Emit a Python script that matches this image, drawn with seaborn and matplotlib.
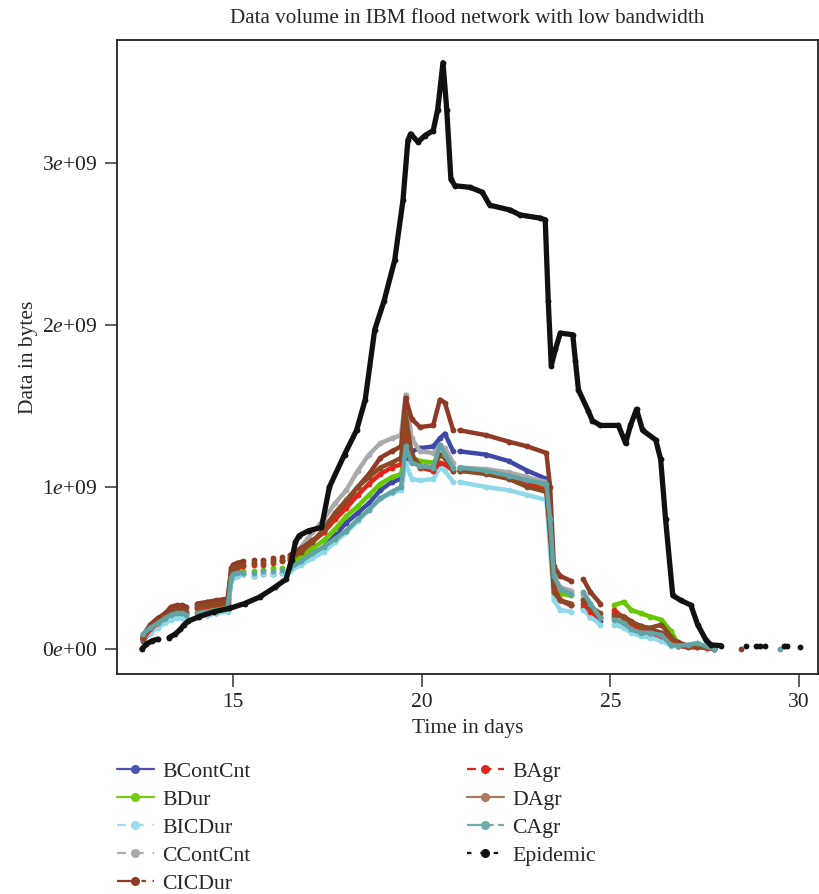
import numpy as np
import pandas as pd
import matplotlib
matplotlib.use("Agg")
import matplotlib.pyplot as plt
from matplotlib.lines import Line2D
import seaborn as sns

nan = np.nan

# shared time axis (days) for the routing protocols, NaN = gap in the trace
days = [12.6, 12.8, 13.0, 13.2, 13.35, 13.5, 13.65, 13.75, nan,
        14.05, 14.3, 14.55, 14.85, 14.95, 15.0, 15.1, 15.25, nan,
        15.55, nan, 15.8, nan, 16.05, nan, 16.3, nan,
        16.5, 16.8, 17.1, 17.4, 17.7, 18.0, 18.3, 18.6, 18.9, 19.2, 19.45,
        19.57, 19.73, 19.95, 20.3, 20.48, 20.61, 20.83, nan,
        21.0, 21.7, 22.3, 22.8, 23.3, 23.4, 23.5, 23.67, 23.95, nan,
        24.28, 24.47, 24.73, nan,
        25.1, 25.35, 25.55, 25.8, 26.05, 26.35, 26.6,
        26.8, 27.05, 27.3, 27.55, 27.75, nan, 28.46, nan, 29.5]

# data volume in 1e9 bytes
bcontcnt = [0.05, 0.1, 0.14, 0.17, 0.19, 0.2, 0.2, 0.19, nan,
            0.2, 0.21, 0.22, 0.24, 0.43, 0.45, 0.45, 0.46, nan,
            0.45, nan, 0.46, nan, 0.46, nan, 0.47, nan,
            0.49, 0.53, 0.58, 0.63, 0.7, 0.78, 0.84, 0.9, 0.98, 1.03, 1.05,
            1.15, 1.22, 1.24, 1.25, 1.3, 1.33, 1.22, nan,
            1.22, 1.2, 1.16, 1.1, 1.05, 0.8, 0.37, 0.3, 0.27, nan,
            0.25, 0.2, 0.17, nan,
            0.19, 0.16, 0.13, 0.1, 0.08, 0.06, 0.03,
            0.02, 0.015, 0.01, 0.005, 0.0, nan, nan, nan, nan]
bdur = [0.06, 0.11, 0.15, 0.18, 0.21, 0.22, 0.22, 0.21, nan,
        0.23, 0.24, 0.25, 0.26, 0.44, 0.46, 0.47, 0.48, nan,
        0.48, nan, 0.49, nan, 0.5, nan, 0.5, nan,
        0.52, 0.57, 0.62, 0.67, 0.74, 0.82, 0.88, 0.95, 1.02, 1.06, 1.08,
        1.22, 1.18, 1.16, 1.15, 1.2, 1.18, 1.12, nan,
        1.12, 1.1, 1.08, 1.04, 1.0, 0.78, 0.4, 0.34, 0.33, nan,
        0.31, 0.25, 0.2, nan,
        0.27, 0.29, 0.24, 0.22, 0.2, 0.18, 0.11,
        0.03, 0.02, 0.015, 0.01, 0.0, nan, nan, nan, nan]
bicdur = [0.06, 0.1, 0.13, 0.16, 0.18, 0.19, 0.19, 0.18, nan,
          0.2, 0.21, 0.22, 0.23, 0.42, 0.44, 0.45, 0.46, nan,
          0.45, nan, 0.46, nan, 0.46, nan, 0.47, nan,
          0.48, 0.52, 0.56, 0.6, 0.66, 0.72, 0.79, 0.86, 0.93, 0.96, 0.98,
          1.15, 1.05, 1.04, 1.05, 1.12, 1.1, 1.03, nan,
          1.03, 1.0, 0.98, 0.95, 0.92, 0.6, 0.3, 0.24, 0.23, nan,
          0.24, 0.2, 0.15, nan,
          0.15, 0.13, 0.1, 0.08, 0.07, 0.05, 0.02,
          0.015, 0.01, 0.01, 0.005, 0.0, nan, nan, nan, nan]
ccontcnt = [0.07, 0.14, 0.18, 0.21, 0.24, 0.25, 0.25, 0.24, nan,
            0.27, 0.28, 0.29, 0.30, 0.49, 0.51, 0.52, 0.53, nan,
            0.53, nan, 0.54, nan, 0.55, nan, 0.55, nan,
            0.57, 0.63, 0.72, 0.80, 0.90, 0.98, 1.10, 1.20, 1.27, 1.30, 1.32,
            1.57, 1.30, 1.22, 1.21, 1.25, 1.24, 1.15, nan,
            1.12, 1.11, 1.09, 1.06, 1.03, 0.8, 0.45, 0.38, 0.36, nan,
            0.33, 0.27, 0.2, nan,
            0.2, 0.17, 0.14, 0.12, 0.1, 0.08, 0.05,
            0.03, 0.02, 0.015, 0.01, 0.0, nan, nan, nan, nan]
cicdur = [0.08, 0.15, 0.19, 0.22, 0.26, 0.27, 0.27, 0.26, nan,
          0.28, 0.29, 0.30, 0.31, 0.50, 0.52, 0.53, 0.54, nan,
          0.55, nan, 0.55, nan, 0.56, nan, 0.57, nan,
          0.58, 0.62, 0.67, 0.72, 0.82, 0.90, 1.00, 1.08, 1.18, 1.22, 1.25,
          1.55, 1.42, 1.37, 1.38, 1.54, 1.52, 1.35, nan,
          1.35, 1.32, 1.28, 1.25, 1.21, 1.0, 0.51, 0.45, 0.42, nan,
          0.43, 0.35, 0.28, nan,
          0.22, 0.2, 0.16, 0.14, 0.12, 0.1, 0.06,
          0.04, 0.02, 0.015, 0.01, 0.005, nan, 0.0, nan, nan]
bagr = [0.06, 0.12, 0.16, 0.19, 0.22, 0.23, 0.23, 0.22, nan,
        0.25, 0.26, 0.27, 0.28, 0.47, 0.49, 0.50, 0.51, nan,
        0.52, nan, 0.52, nan, 0.53, nan, 0.54, nan,
        0.55, 0.6, 0.66, 0.72, 0.8, 0.87, 0.95, 1.02, 1.08, 1.12, 1.14,
        1.35, 1.18, 1.12, 1.1, 1.15, 1.14, 1.1, nan,
        1.1, 1.09, 1.06, 1.02, 0.98, 0.75, 0.38, 0.3, 0.27, nan,
        0.28, 0.23, 0.19, nan,
        0.24, 0.19, 0.15, 0.12, 0.1, 0.08, 0.05,
        0.02, 0.01, 0.01, 0.005, 0.0, nan, nan, nan, nan]
dagr = [0.07, 0.13, 0.17, 0.2, 0.23, 0.24, 0.24, 0.23, nan,
        0.26, 0.27, 0.28, 0.29, 0.48, 0.5, 0.51, 0.52, nan,
        0.53, nan, 0.53, nan, 0.54, nan, 0.55, nan,
        0.56, 0.6, 0.66, 0.74, 0.84, 0.92, 1.0, 1.06, 1.12, 1.15, 1.18,
        1.45, 1.2, 1.13, 1.12, 1.2, 1.18, 1.1, nan,
        1.1, 1.08, 1.05, 1.0, 0.97, 0.7, 0.35, 0.3, 0.28, nan,
        0.3, 0.26, 0.22, nan,
        0.21, 0.2, 0.17, 0.14, 0.13, 0.15, 0.076,
        0.025, 0.02, 0.015, 0.01, 0.005, nan, nan, nan, nan]
cagr = [0.09, 0.13, 0.16, 0.19, 0.21, 0.22, 0.22, 0.21, nan,
        0.22, 0.23, 0.24, 0.25, 0.44, 0.46, 0.47, 0.47, nan,
        0.47, nan, 0.48, nan, 0.48, nan, 0.49, nan,
        0.5, 0.54, 0.59, 0.63, 0.68, 0.73, 0.8, 0.86, 0.93, 0.97, 1.0,
        1.25, 1.15, 1.13, 1.12, 1.26, 1.2, 1.12, nan,
        1.12, 1.1, 1.07, 1.04, 1.02, 0.8, 0.45, 0.37, 0.34, nan,
        0.35, 0.28, 0.19, nan,
        0.18, 0.16, 0.12, 0.1, 0.1, 0.086, 0.025,
        0.02, 0.025, 0.035, 0.015, 0.0, nan, nan, nan, 0.0]

# epidemic has its own time axis
epi_days = [12.58, 12.7, 12.85, 13.0, nan, 13.3, 13.45, 13.6, 13.7, 13.8, 14.1,
            14.5, 14.9, 15.3, 15.7, 16.1, 16.4, 16.55, 16.65, 16.75, 17.0,
            17.34, 17.55, 17.95, 18.27, 18.5, 18.75, 19.0, 19.28, 19.5, 19.63,
            19.7, 19.9, 20.08, 20.3, 20.42, 20.56, 20.66, 20.77, 20.88, 21.28,
            21.6, 21.8, 22.34, 22.6, 23.14, 23.27, 23.35, 23.43, 23.54, 23.67,
            24.0, 24.07, 24.15, 24.41, 24.52, 24.73, 25.21, 25.4, 25.53, 25.69,
            25.85, 26.2, 26.33, 26.46, 26.65, 26.86, 27.13, 27.31, 27.53, 27.66,
            27.93, nan, 28.6, nan, 28.85, 28.95, nan, 29.1, nan, 29.6, 29.68,
            nan, 30.02]
epidemic = [0.0, 0.03, 0.05, 0.06, nan, 0.07, 0.09, 0.12, 0.15, 0.17, 0.2,
            0.23, 0.25, 0.28, 0.32, 0.38, 0.43, 0.55, 0.66, 0.70, 0.73,
            0.75, 1.0, 1.2, 1.35, 1.54, 1.97, 2.15, 2.4, 2.77, 3.14,
            3.18, 3.13, 3.17, 3.2, 3.33, 3.62, 3.33, 2.9, 2.86, 2.85,
            2.82, 2.74, 2.71, 2.68, 2.66, 2.65, 2.15, 1.75, 1.85, 1.95,
            1.94, 1.78, 1.6, 1.47, 1.41, 1.38, 1.38, 1.27, 1.38, 1.48,
            1.35, 1.29, 1.17, 0.8, 0.33, 0.3, 0.27, 0.15, 0.055, 0.025,
            0.02, nan, 0.02, nan, 0.02, 0.02, nan, 0.02, nan, 0.02, 0.02,
            nan, 0.01]

names = ["BContCnt", "BDur", "BICDur", "CContCnt", "CICDur",
         "BAgr", "DAgr", "CAgr", "Epidemic"]
values = [bcontcnt, bdur, bicdur, ccontcnt, cicdur, bagr, dagr, cagr, epidemic]
colors = ["#3F48A8", "#66C800", "#8FDAEA", "#AAAAAA", "#8E3A26",
          "#E0261A", "#8B4A24", "#62A3A6", "#111111"]
legend_colors = ["#4A52B0", "#77CC11", "#99DDEE", "#AAAAAA", "#8E3A26",
                 "#E0261A", "#A9785A", "#6FAAAD", "#111111"]
styles = ["-", "-", (0, (4, 4)), (0, (4, 4)), (0, (8, 3, 2, 3)),
          (0, (4, 3)), "-", (0, (8, 2, 2, 2)), (0, (2, 4))]

frames = []
for name, vals in zip(names, values):
    xs = epi_days if name == "Epidemic" else days
    d = pd.DataFrame({"day": xs, "val": vals})
    d["seg"] = d["day"].isna().cumsum()
    d = d.dropna()
    d["bytes"] = d["val"] * 1e9
    d["series"] = name
    frames.append(d)
df = pd.concat(frames)

sns.set_style("ticks")
plt.rcParams["font.family"] = ["Liberation Serif", "DejaVu Serif"]
plt.rcParams["mathtext.fontset"] = "custom"
plt.rcParams["mathtext.rm"] = "Liberation Serif"
plt.rcParams["mathtext.it"] = "Liberation Serif:italic"

fig = plt.figure(figsize=(8.19, 8.94), dpi=100)
ax = fig.add_axes([117 / 819, 1 - 674 / 894, 701 / 819, 634 / 894])

for name, c in zip(names, colors):
    sub = df[df["series"] == name]
    lw = 3.8 if name == "Epidemic" else 3.2
    sns.lineplot(data=sub, x="day", y="bytes", units="seg", estimator=None,
                 color=c, lw=lw, marker="o", markersize=4.2, markeredgewidth=0,
                 ax=ax, legend=False)

ax.set_xlim(11.92, 30.5)
ax.set_ylim(-0.155e9, 3.76e9)
ax.set_xticks([15, 20, 25, 30])
ax.set_yticks([0, 1e9, 2e9, 3e9])
ax.set_yticklabels([r"0$\it{e}$+00", r"1$\it{e}$+09", r"2$\it{e}$+09", r"3$\it{e}$+09"])
ax.tick_params(labelsize=15.5, length=9, width=1.1, pad=5,
               colors="#333333", labelcolor="#222222")
for s in ax.spines.values():
    s.set_linewidth(1.3)
    s.set_color("#222222")
ax.set_xlabel("Time in days", fontsize=15.5, labelpad=5)
ax.set_ylabel("Data in bytes", fontsize=15.5, labelpad=3)
ax.set_title("Data volume in IBM flood network with low bandwidth",
             fontsize=15.2, pad=12)

handles = [Line2D([0], [0], color=c, ls=st, lw=1.6, marker="o", markersize=5.5)
           for c, st in zip(legend_colors, styles)]
fig.legend(handles, names, ncol=2, loc="upper left",
           bbox_to_anchor=(108 / 819, 1 - 753 / 894), frameon=False,
           fontsize=15.7, handlelength=1.7, handletextpad=0.4,
           columnspacing=9.9, labelspacing=0.35, borderaxespad=0)

fig.savefig("out.png", dpi=100)
